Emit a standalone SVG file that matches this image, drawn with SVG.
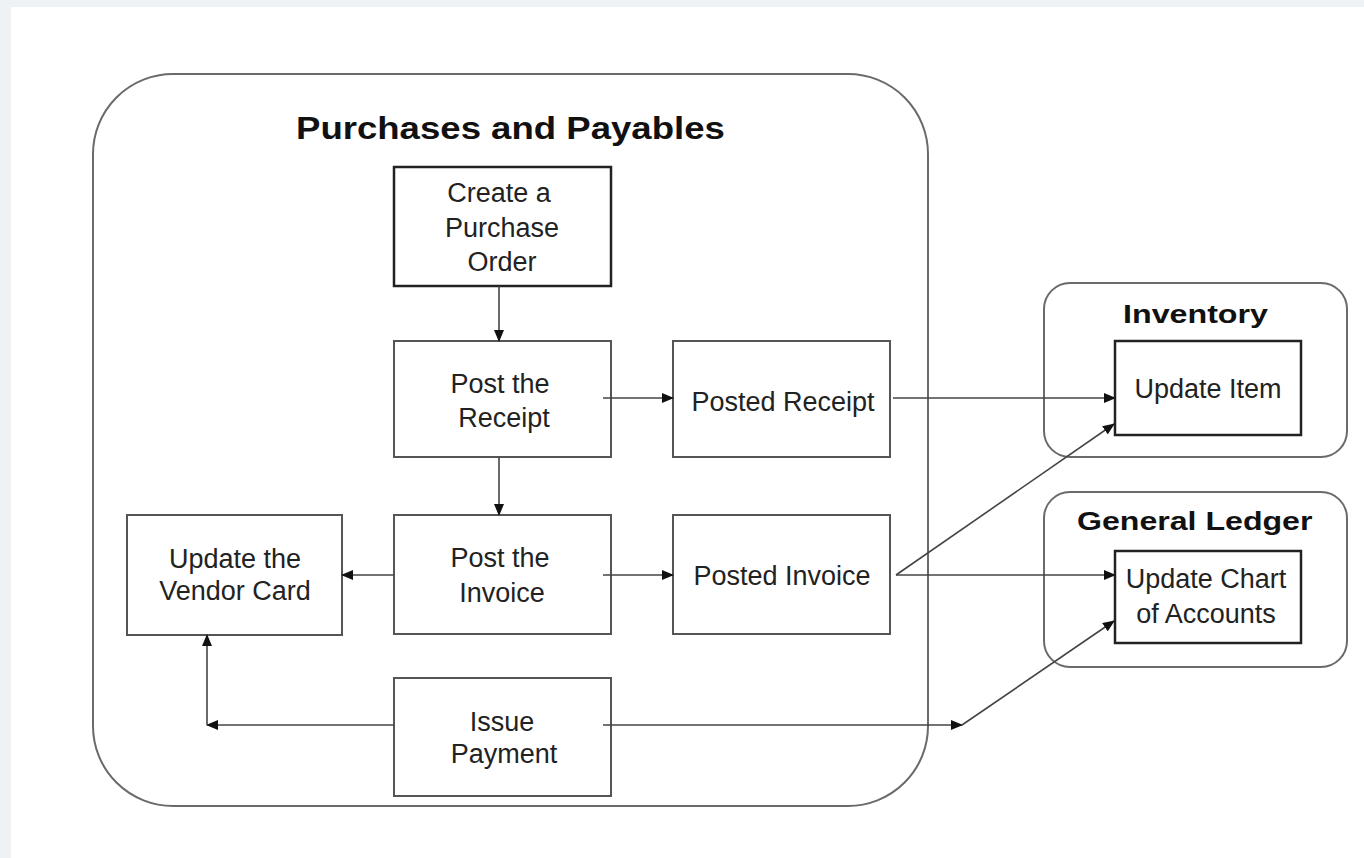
<svg xmlns="http://www.w3.org/2000/svg" width="1364" height="858" viewBox="0 0 1364 858">
<style>
.bg{fill:#eef2f4}
.cont{fill:none;stroke:#6a6a6a;stroke-width:2}
.box{fill:#fff;stroke:#555;stroke-width:2}
.box2{fill:#fff;stroke:#222;stroke-width:2.5}
.t{font-family:"Liberation Sans",Arial,sans-serif;font-size:27px;fill:#222;text-anchor:middle}
.h{font-family:"Liberation Sans",Arial,sans-serif;font-weight:bold;fill:#111}
.c{fill:none;stroke:#444;stroke-width:1.6}
</style>
<defs>
<marker id="ah" markerUnits="userSpaceOnUse" markerWidth="12" markerHeight="10" refX="11" refY="5" orient="auto">
<path d="M0,0 L12,5 L0,10 Z" fill="#111"/>
</marker>
</defs>
<rect x="0" y="0" width="1364" height="858" class="bg"/>
<rect x="11" y="7" width="1353" height="851" fill="#fff"/>

<g id="purchases-container">
<rect x="93" y="74" width="835" height="732" rx="80" ry="80" class="cont"/>
<text class="h" transform="translate(296,139) scale(1.18,1)" font-size="31">Purchases and Payables</text>
</g>

<g id="inventory-container">
<rect x="1044" y="283" width="303" height="174" rx="26" ry="26" class="cont"/>
<text class="h" transform="translate(1123,323) scale(1.24,1)" font-size="26">Inventory</text>
</g>

<g id="gl-container">
<rect x="1044" y="492" width="303" height="175" rx="26" ry="26" class="cont"/>
<text class="h" transform="translate(1077,530) scale(1.235,1)" font-size="26">General Ledger</text>
</g>

<g id="create-po">
<rect x="394" y="167" width="217" height="119" class="box2"/>
<text class="t" x="499" y="202">Create a</text>
<text class="t" x="502" y="237">Purchase</text>
<text class="t" x="502" y="271">Order</text>
</g>

<g id="post-receipt">
<rect x="394" y="341" width="217" height="116" class="box"/>
<text class="t" x="500" y="393">Post the</text>
<text class="t" x="504" y="427">Receipt</text>
</g>

<g id="posted-receipt">
<rect x="673" y="341" width="217" height="116" class="box"/>
<text class="t" x="783" y="411">Posted Receipt</text>
</g>

<g id="post-invoice">
<rect x="394" y="515" width="217" height="119" class="box"/>
<text class="t" x="500" y="567">Post the</text>
<text class="t" x="502" y="602">Invoice</text>
</g>

<g id="posted-invoice">
<rect x="673" y="515" width="217" height="119" class="box"/>
<text class="t" x="782" y="585">Posted Invoice</text>
</g>

<g id="vendor-card">
<rect x="127" y="515" width="215" height="120" class="box"/>
<text class="t" x="235" y="568">Update the</text>
<text class="t" x="235" y="600">Vendor Card</text>
</g>

<g id="issue-payment">
<rect x="394" y="678" width="217" height="118" class="box"/>
<text class="t" x="502" y="731">Issue</text>
<text class="t" x="504" y="763">Payment</text>
</g>

<g id="update-item">
<rect x="1115" y="341" width="186" height="94" class="box2"/>
<text class="t" x="1208" y="398">Update Item</text>
</g>

<g id="update-chart">
<rect x="1115" y="551" width="186" height="92" class="box2"/>
<text class="t" x="1206" y="588">Update Chart</text>
<text class="t" x="1206" y="623">of Accounts</text>
</g>

<g id="connectors">
<line x1="499" y1="286" x2="499" y2="341" class="c" marker-end="url(#ah)"/>
<line x1="499" y1="457" x2="499" y2="515" class="c" marker-end="url(#ah)"/>
<line x1="603" y1="398" x2="673" y2="398" class="c" marker-end="url(#ah)"/>
<line x1="603" y1="575" x2="673" y2="575" class="c" marker-end="url(#ah)"/>
<line x1="394" y1="575" x2="342" y2="575" class="c" marker-end="url(#ah)"/>
<line x1="394" y1="725" x2="207" y2="725" class="c" marker-end="url(#ah)"/>
<line x1="207" y1="725" x2="207" y2="635" class="c" marker-end="url(#ah)"/>
<line x1="603" y1="725" x2="962" y2="725" class="c" marker-end="url(#ah)"/>
<line x1="962" y1="725" x2="1114" y2="621" class="c" marker-end="url(#ah)"/>
<line x1="893" y1="398" x2="1115" y2="398" class="c" marker-end="url(#ah)"/>
<line x1="896" y1="575" x2="1115" y2="575" class="c" marker-end="url(#ah)"/>
<line x1="896" y1="575" x2="1114" y2="424" class="c" marker-end="url(#ah)"/>
</g>
</svg>
